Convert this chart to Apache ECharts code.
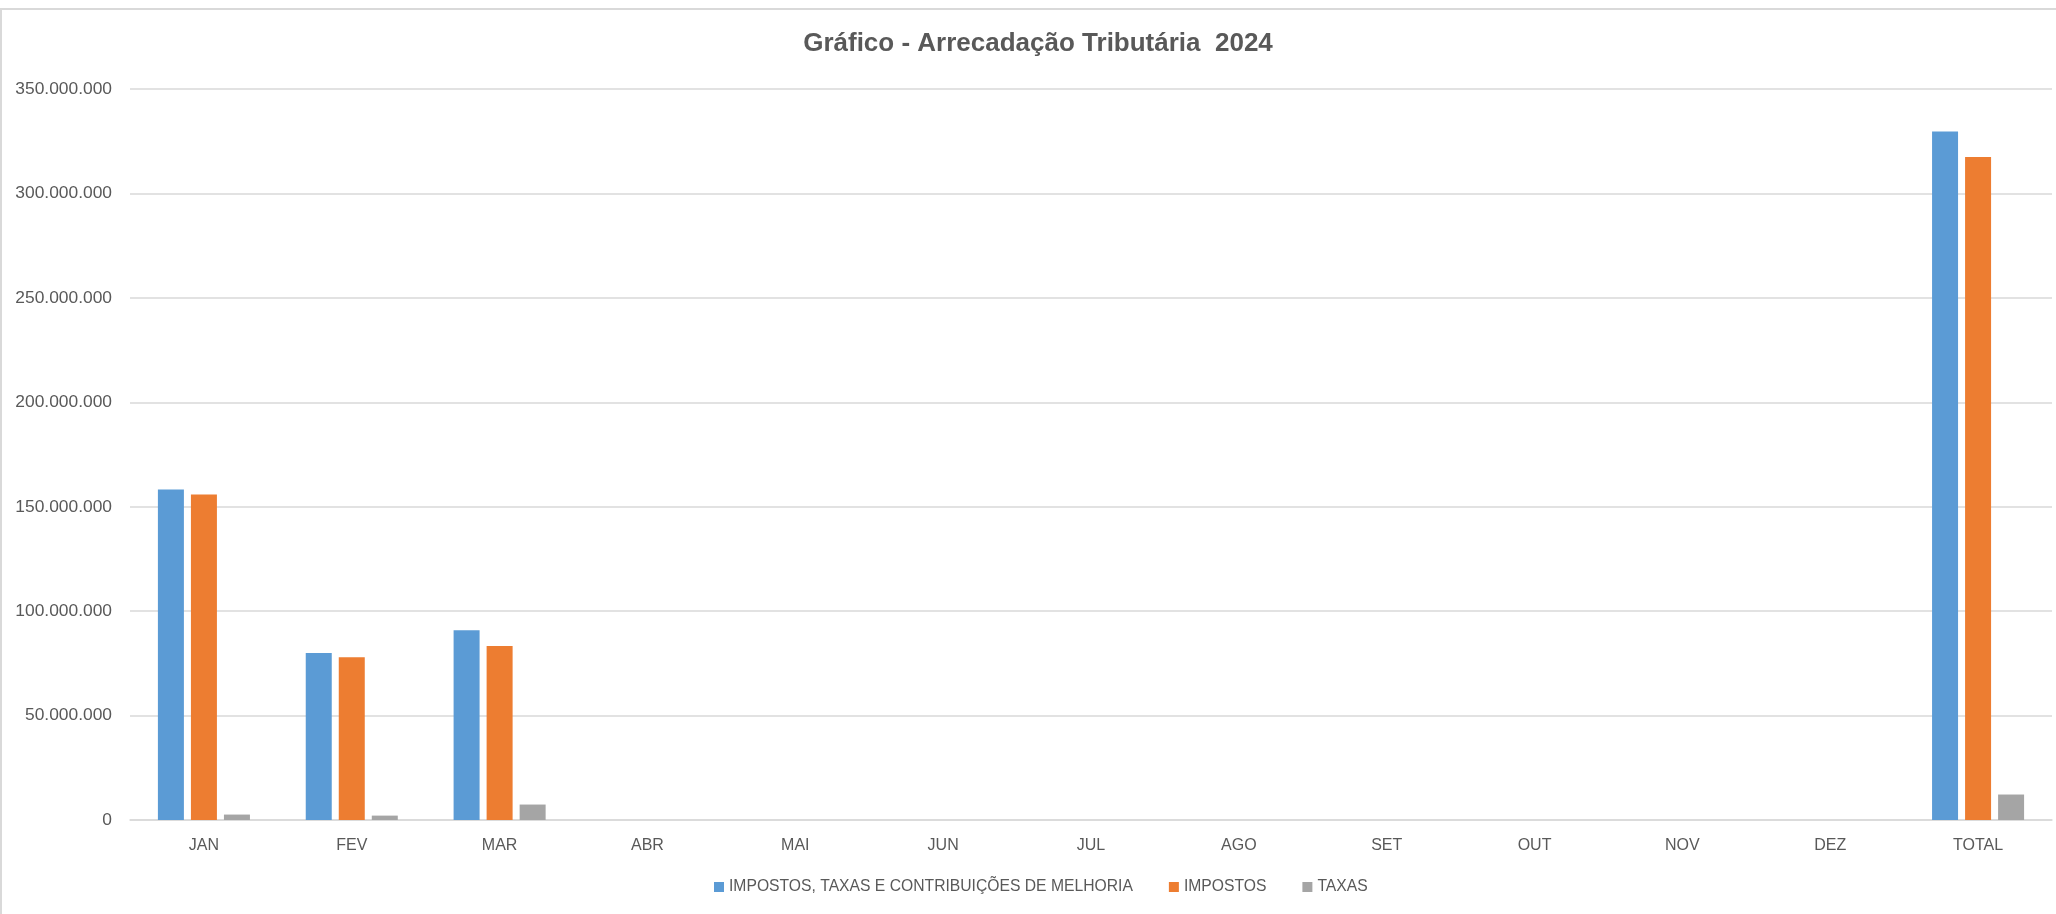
<!DOCTYPE html>
<html>
<head>
<meta charset="utf-8">
<script src="https://cdn.jsdelivr.net/npm/echarts@6/dist/echarts.min.js"></script>
<style>
html,body{margin:0;padding:0;background:#fff;}
#c{width:2056px;height:914px;}
</style>
</head>
<body>
<div id="c"></div>
<script>
const categories = ['JAN','FEV','MAR','ABR','MAI','JUN','JUL','AGO','SET','OUT','NOV','DEZ','TOTAL'];
const seriesNames = ['IMPOSTOS, TAXAS E CONTRIBUIÇÕES DE MELHORIA','IMPOSTOS','TAXAS'];
const totalGeral = [158200000, 80000000, 90800000, null, null, null, null, null, null, null, null, null, 329700000];
const impostos   = [155800000, 77900000, 83300000, null, null, null, null, null, null, null, null, null, 317400000];
const taxas      = [2600000, 2100000, 7400000, null, null, null, null, null, null, null, null, null, 12200000];
const yTicks = {min: 0, max: 350000000, interval: 50000000};
const colors = ['#5B9BD5','#ED7D31','#A5A5A5'];

function fmt(v){
  return String(Math.round(v)).replace(/\B(?=(\d{3})+(?!\d))/g, '.');
}

const chart = echarts.init(document.getElementById('c'), null, {renderer:'canvas'});
const FONT = '"Liberation Sans", Arial, sans-serif';
const dataSets = [totalGeral, impostos, taxas];
chart.setOption({
  animation: false,
  backgroundColor: '#ffffff',
  title: {
    text: 'Gráfico - Arrecadação Tributária  2024',
    left: 1038,
    textAlign: 'center',
    top: 31,
    padding: 0,
    textStyle: {fontFamily: FONT, fontWeight: 'bold', fontSize: 26, color: '#595959'}
  },
  legend: {
    data: seriesNames,
    left: 714,
    top: 877,
    padding: 0,
    itemWidth: 10,
    itemHeight: 10,
    itemGap: 36,
    icon: 'rect',
    textStyle: {fontFamily: FONT, fontSize: 15.7, color: '#595959', lineHeight: 20}
  },
  grid: {left: 130, right: 4, top: 89, bottom: 94, containLabel: false},
  xAxis: {
    type: 'category',
    data: categories,
    axisLine: {show: true, lineStyle: {color: '#d9d9d9', width: 1.5}},
    axisTick: {show: false},
    axisLabel: {fontFamily: FONT, fontSize: 16, color: '#595959', margin: 18}
  },
  yAxis: {
    type: 'value',
    min: yTicks.min,
    max: yTicks.max,
    interval: yTicks.interval,
    axisLine: {show: false},
    axisTick: {show: false},
    splitLine: {lineStyle: {color: '#d9d9d9', width: 1.5}},
    axisLabel: {fontFamily: FONT, fontSize: 17.4, color: '#595959', margin: 18, formatter: fmt}
  },
  graphic: [
    {type: 'line', shape: {x1: 0, y1: 9, x2: 2056, y2: 9}, style: {stroke: '#d9d9d9', lineWidth: 2}, silent: true},
    {type: 'line', shape: {x1: 1, y1: 9, x2: 1, y2: 914}, style: {stroke: '#d9d9d9', lineWidth: 2}, silent: true}
  ],
  series: seriesNames.map((n, i) => ({
    name: n,
    type: 'bar',
    data: dataSets[i],
    barWidth: 26,
    barGap: '27%',
    itemStyle: {color: colors[i]}
  }))
});
</script>
</body>
</html>
